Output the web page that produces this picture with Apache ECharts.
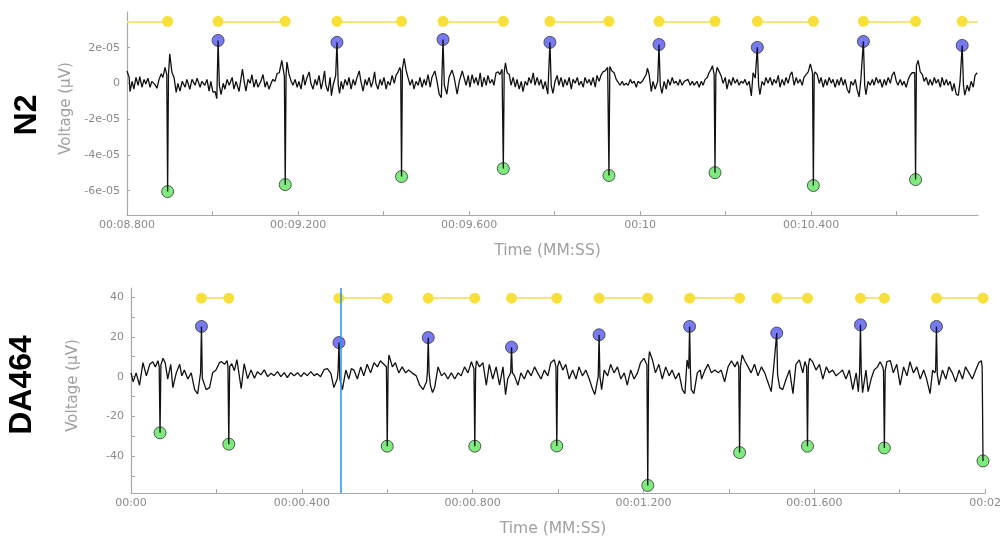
<!DOCTYPE html>
<html>
<head>
<meta charset="utf-8">
<script src="https://cdn.jsdelivr.net/npm/echarts@6/dist/echarts.min.js"></script>
<style>
html,body{margin:0;padding:0;background:#fff;}
#chart{width:1004px;height:540px;}
</style>
</head>
<body>
<div id="chart"></div>
<script>
// ---------------- DATA ----------------
// N2 panel: time in ms after 00:08.800, voltage in units of 1e-6
const n2StartMs = 8800;
const n2EndMs = 10790;
const n2Unit = 1e-6;
const n2Trace = [
[0,7.0],[5,3.4],[7,-4.5],[12,1.2],[16,-3.2],[21,3.4],[26,-1.0],[30,3.9],[35,-2.1],[40,2.3],[44,-0.3],[49,3.0],[54,-2.1],[58,1.2],[65,-0.5],[70,-2.7],[75,2.3],[80,5.5],[84,3.4],[89,9.0],[93,5.0],[95,-60.5],[97,5.0],[100,16.6],[105,6.3],[110,3.4],[115,-5.0],[119,0.1],[124,-4.3],[129,1.2],[136,-2.1],[140,2.3],[147,-3.2],[152,2.3],[159,-1.0],[164,3.0],[171,-2.1],[175,1.2],[182,-1.0],[187,2.3],[192,-4.3],[196,1.2],[201,-4.8],[206,-4.5],[210,-8.5],[213,24.1],[216,-1.0],[220,-6.2],[225,0.1],[229,-3.2],[234,2.3],[239,-1.0],[246,3.4],[250,-3.2],[255,1.2],[262,-4.5],[267,3.4],[270,8.0],[274,1.2],[278,-4.3],[283,2.3],[288,0.1],[292,5.0],[297,-2.1],[302,2.3],[306,-2.1],[313,1.2],[318,5.0],[323,-2.1],[327,1.2],[332,-3.2],[337,0.1],[341,2.3],[346,1.2],[351,5.5],[356,6.0],[362,12.9],[368,4.0],[370,-56.6],[372,5.0],[374,12.0],[379,5.0],[384,1.2],[388,-1.0],[393,2.3],[398,-2.1],[402,1.2],[407,-3.2],[412,5.0],[416,-1.0],[421,3.4],[426,6.5],[430,0.1],[435,-3.2],[440,2.3],[444,-1.0],[449,4.5],[454,-3.2],[458,1.2],[462,7.0],[465,-1.0],[470,-4.5],[475,3.4],[478,-6.8],[482,-1.0],[488,4.5],[491,23.0],[494,-1.0],[497,-5.5],[501,1.2],[505,-3.2],[510,2.3],[515,-1.0],[519,3.4],[524,-3.2],[529,2.3],[533,-1.0],[538,3.4],[543,7.0],[547,1.2],[552,-4.3],[557,2.3],[561,-1.0],[566,3.4],[571,-2.1],[575,1.2],[579,6.5],[582,0.1],[587,-3.2],[592,2.3],[596,-1.0],[601,3.4],[606,-3.2],[610,1.2],[615,-1.0],[620,4.5],[625,0.1],[629,4.5],[634,6.5],[638,9.0],[640,7.0],[642,-52.1],[644,8.0],[648,14.0],[653,7.0],[657,3.4],[662,-1.0],[667,2.3],[671,-3.2],[676,1.2],[681,-1.0],[685,3.4],[690,-2.1],[695,2.3],[699,-1.0],[704,5.0],[709,-2.1],[713,3.4],[720,7.0],[725,1.2],[730,-6.0],[735,-8.0],[739,24.6],[742,-1.0],[748,-6.0],[753,3.4],[760,7.5],[765,3.4],[772,-6.0],[777,1.2],[784,7.0],[788,3.4],[793,-1.0],[798,4.5],[802,-2.1],[807,5.0],[812,0.1],[816,3.4],[821,-1.0],[826,6.0],[830,-2.1],[835,3.4],[840,-1.0],[844,4.5],[849,0.1],[854,2.3],[858,-1.0],[863,6.0],[868,6.5],[872,5.0],[877,8.0],[880,-47.6],[882,6.0],[885,11.5],[889,6.0],[894,5.0],[898,-1.0],[903,3.4],[908,-2.1],[912,2.3],[917,-3.2],[922,1.2],[926,-4.5],[931,1.2],[936,-1.0],[940,3.4],[945,0.1],[950,6.0],[954,-1.0],[959,3.4],[964,-1.0],[968,2.3],[973,-3.2],[978,1.2],[984,-6.0],[989,23.0],[992,-1.0],[996,-5.5],[1001,1.2],[1006,4.5],[1010,-1.0],[1015,3.4],[1020,-2.1],[1024,2.3],[1029,-1.0],[1034,3.4],[1039,-3.2],[1043,2.3],[1048,0.1],[1053,3.4],[1057,-1.0],[1062,1.2],[1067,-2.1],[1071,3.4],[1076,0.1],[1081,2.3],[1085,-1.0],[1090,3.4],[1095,-2.1],[1099,4.5],[1104,1.2],[1109,5.0],[1113,6.5],[1118,7.0],[1124,9.0],[1127,-51.5],[1129,9.5],[1134,7.0],[1139,6.0],[1144,2.3],[1148,1.2],[1153,-1.0],[1158,1.2],[1162,-1.0],[1167,0.1],[1172,-1.0],[1177,2.3],[1181,0.1],[1186,1.2],[1191,-2.1],[1195,1.2],[1200,0.1],[1205,1.2],[1209,0.1],[1214,5.0],[1217,8.5],[1221,5.0],[1226,-4.5],[1230,1.2],[1235,-3.2],[1241,1.2],[1244,21.8],[1247,-1.0],[1251,-5.5],[1256,1.2],[1261,-3.2],[1265,2.3],[1270,-1.0],[1275,3.4],[1279,0.1],[1284,1.2],[1289,-1.0],[1293,2.3],[1298,-1.0],[1303,1.2],[1307,0.1],[1312,2.3],[1317,-1.0],[1322,1.2],[1326,-1.0],[1333,1.2],[1338,-2.1],[1343,1.2],[1347,-1.0],[1352,2.3],[1357,3.4],[1361,6.0],[1366,8.0],[1369,10.0],[1373,5.0],[1375,-49.9],[1377,5.0],[1380,9.0],[1385,6.5],[1389,4.5],[1394,0.1],[1399,3.4],[1403,-3.2],[1408,2.3],[1413,-1.0],[1417,3.4],[1422,0.1],[1427,2.3],[1431,-1.0],[1436,1.2],[1441,0.1],[1445,2.3],[1450,-1.0],[1455,1.2],[1460,-7.0],[1464,6.0],[1469,3.0],[1474,20.2],[1477,-1.0],[1480,-6.2],[1485,1.2],[1490,-1.0],[1494,3.4],[1499,0.1],[1504,3.4],[1509,-1.0],[1513,2.3],[1518,0.1],[1523,4.5],[1527,-2.1],[1532,2.3],[1537,-1.0],[1541,3.4],[1546,0.1],[1551,5.0],[1555,6.5],[1560,-1.0],[1565,3.4],[1569,0.1],[1574,2.3],[1579,-1.0],[1583,3.4],[1588,5.0],[1593,6.5],[1598,11.0],[1603,6.0],[1605,-57.1],[1607,5.0],[1609,6.5],[1614,5.0],[1619,0.1],[1623,3.4],[1628,-2.1],[1633,2.3],[1637,-1.0],[1642,3.4],[1647,0.1],[1651,2.3],[1656,-2.1],[1661,2.3],[1665,-1.0],[1670,3.4],[1675,-1.0],[1679,2.3],[1684,-3.2],[1689,-5.5],[1693,1.2],[1698,-1.0],[1703,2.3],[1707,-3.2],[1712,-7.5],[1716,2.0],[1722,23.5],[1725,-1.0],[1728,-6.2],[1733,1.2],[1738,-1.0],[1743,2.3],[1747,-1.0],[1752,3.4],[1757,0.1],[1761,2.3],[1766,-2.1],[1771,2.3],[1775,-1.0],[1780,3.4],[1785,0.1],[1789,4.5],[1794,6.5],[1799,1.2],[1803,-1.0],[1808,2.3],[1813,-1.0],[1817,1.2],[1822,-2.1],[1827,2.3],[1831,4.5],[1836,6.0],[1842,6.0],[1844,-53.8],[1846,10.0],[1850,12.9],[1855,6.5],[1860,5.0],[1864,1.2],[1869,3.4],[1874,-1.0],[1878,2.3],[1883,-1.0],[1888,3.4],[1892,0.1],[1897,2.3],[1902,-2.1],[1906,3.4],[1911,-1.0],[1916,2.3],[1920,-1.0],[1925,1.2],[1930,-4.3],[1934,0.1],[1939,-6.0],[1944,-6.7],[1948,1.0],[1953,21.3],[1956,-1.0],[1959,-6.5],[1965,-1.0],[1969,-4.3],[1974,1.2],[1979,-2.1],[1983,4.5],[1988,6.0]
];
const n2Peaks = [[213,24.1],[491,23.0],[739,24.6],[989,23.0],[1244,21.8],[1474,20.2],[1722,23.5],[1953,21.3]];
const n2Troughs = [[95,-60.5],[370,-56.6],[642,-52.1],[880,-47.6],[1127,-51.5],[1375,-49.9],[1605,-57.1],[1844,-53.8]];
const n2BarLevel = 34.8;
const n2BarIntervals = [[0,95],[213,370],[491,642],[739,880],[989,1127],[1244,1375],[1474,1605],[1722,1844],[1953,1990]];
const n2BarDots = [95,213,370,491,642,739,880,989,1127,1244,1375,1474,1605,1722,1844,1953];
const n2TickValues = [8.8,9.0,9.2,9.4,9.6,9.8,10.0,10.2,10.4,10.6];
const n2LabelValues = [8.8,9.2,9.6,10.0,10.4];
const n2YMin = -7.36e-5, n2YMax = 4e-5;
const n2YLabelValues = [-6e-5,-4e-5,-2e-5,0,2e-5];

// DA464 panel: time in ms after 00:00, voltage in µV
const daStartMs = 0;
const daEndMs = 2000;
const daTrace = [
[0,1.9],[5,-2.6],[12,1.9],[20,-4.3],[28,7.0],[36,0.4],[44,6.2],[51,7.5],[57,4.9],[63,8.0],[66,5.0],[68,-28.2],[70,5.9],[75,9.2],[80,7.0],[86,-1.2],[93,6.2],[98,-5.5],[106,1.9],[114,6.2],[119,0.4],[125,3.3],[133,-1.2],[141,1.9],[149,-6.5],[156,-8.7],[163,2.0],[165,25.2],[167,-0.8],[176,-6.5],[184,-5.5],[191,1.9],[199,3.3],[207,7.0],[212,7.5],[219,6.2],[225,8.0],[227,5.0],[229,-33.9],[231,5.0],[236,6.5],[242,3.0],[248,8.6],[258,-6.0],[265,6.5],[273,-1.0],[281,3.4],[289,-0.8],[296,2.5],[304,0.9],[312,3.4],[320,0],[328,1.7],[335,0.5],[343,2.5],[351,0],[359,2.0],[366,-0.5],[374,2.0],[382,0.5],[390,2.0],[398,0],[405,2.0],[413,0.5],[421,2.5],[429,0.5],[436,1.5],[444,0],[452,3.5],[460,4.0],[468,1.7],[475,-5.5],[483,-1.0],[485,3.0],[487,17.1],[489,-1.0],[495,-6.5],[503,3.3],[510,-1.2],[516,4.0],[522,3.3],[530,-1.2],[538,4.9],[545,0.4],[553,6.2],[561,1.9],[569,7.0],[577,4.9],[584,8.0],[592,6.2],[598,5.0],[600,-34.9],[602,5.0],[604,10.9],[612,4.9],[619,7.0],[627,1.9],[635,4.9],[643,1.9],[650,3.3],[658,1.9],[668,0.4],[676,-4.3],[684,-6.5],[692,-2.6],[694,2.0],[696,19.6],[698,2.0],[701,-4.3],[706,-8.0],[711,-5.5],[719,4.9],[727,0.4],[734,1.9],[742,-1.2],[750,1.9],[758,-1.2],[766,1.9],[773,0.4],[781,4.9],[789,1.9],[797,7.5],[803,4.0],[805,-34.9],[807,4.0],[809,8.0],[816,4.9],[824,7.0],[832,-4.3],[839,6.2],[847,-1.2],[855,4.9],[863,-4.3],[871,4.9],[877,-9.0],[882,-1.2],[889,2.0],[891,14.8],[893,2.0],[898,0.4],[906,-4.3],[913,1.9],[921,-1.2],[929,3.3],[937,0.4],[945,4.9],[952,1.9],[960,-1.2],[968,3.3],[976,0.4],[983,7.0],[991,8.5],[995,5.0],[997,-34.8],[999,5.0],[1003,8.0],[1011,3.3],[1018,6.2],[1026,-1.2],[1034,3.3],[1042,-1.2],[1049,4.9],[1057,0.4],[1065,3.3],[1073,-1.2],[1081,-6.5],[1086,-9.0],[1094,0],[1096,21.0],[1098,0],[1102,-6.5],[1108,3.3],[1116,0.4],[1123,6.2],[1131,1.9],[1139,4.9],[1147,-1.2],[1155,1.9],[1162,-4.3],[1170,3.3],[1178,-1.2],[1186,1.9],[1193,7.0],[1201,9.2],[1208,6.0],[1210,-54.6],[1212,8.0],[1214,12.6],[1221,8.4],[1228,1.9],[1236,6.2],[1244,-1.2],[1252,4.9],[1260,0.4],[1267,3.3],[1275,-1.2],[1283,1.9],[1291,-6.5],[1297,-8.5],[1302,8.4],[1306,4.0],[1308,25.2],[1310,2.0],[1312,-6.5],[1318,-8.5],[1326,1.9],[1333,3.3],[1336,-1.2],[1344,3.3],[1351,6.2],[1359,1.9],[1367,3.3],[1375,1.9],[1382,3.3],[1390,-2.6],[1398,4.9],[1406,8.0],[1414,4.9],[1420,7.6],[1423,5.0],[1425,-38.1],[1427,5.0],[1431,10.9],[1437,8.0],[1445,4.9],[1452,1.9],[1460,6.2],[1468,0.4],[1476,4.9],[1484,1.9],[1491,-2.6],[1499,-7.5],[1505,5.0],[1509,5.9],[1512,21.9],[1514,1.0],[1519,-5.5],[1526,-6.5],[1534,-1.2],[1542,3.3],[1550,-8.5],[1557,6.2],[1565,8.4],[1573,1.9],[1578,7.6],[1582,5.0],[1584,-34.9],[1586,5.0],[1589,9.2],[1596,7.5],[1604,3.3],[1612,6.2],[1620,-1.2],[1628,4.9],[1635,1.9],[1643,3.3],[1651,0.4],[1659,1.9],[1666,3.3],[1674,-1.2],[1682,3.3],[1690,-6.5],[1698,1.9],[1703,-7.5],[1706,2.0],[1708,26.0],[1710,2.0],[1713,-8.0],[1721,3.3],[1726,-7.5],[1733,-1.2],[1740,3.3],[1748,4.9],[1754,7.5],[1760,5.0],[1762,3.0],[1764,-35.8],[1766,3.0],[1770,7.6],[1778,8.0],[1785,1.9],[1793,6.2],[1801,-4.3],[1809,4.9],[1817,0.4],[1824,7.5],[1832,1.9],[1840,4.9],[1848,-1.2],[1856,3.3],[1863,-1.2],[1871,-8.5],[1877,3.3],[1882,1.9],[1884,3.0],[1886,25.2],[1888,1.0],[1892,-4.3],[1900,3.3],[1908,-1.2],[1915,4.9],[1923,1.9],[1931,-2.6],[1939,3.3],[1947,-1.2],[1954,4.9],[1962,1.9],[1970,-1.2],[1978,3.3],[1985,7.0],[1991,8.0],[1993,5.0],[1995,-42.3]
];
const daPeaks = [[165,25.2],[487,17.1],[696,19.6],[891,14.8],[1096,21.0],[1308,25.2],[1512,21.9],[1708,26.0],[1886,25.2]];
const daTroughs = [[68,-28.2],[229,-33.9],[600,-34.9],[805,-34.9],[997,-34.8],[1210,-54.6],[1425,-38.1],[1584,-34.9],[1764,-35.8],[1995,-42.3]];
const daBarLevel = 39.4;
const daBarIntervals = [[165,229],[487,600],[696,805],[891,997],[1096,1210],[1308,1425],[1512,1584],[1708,1764],[1886,1995]];
const daBarDots = [165,229,487,600,696,805,891,997,1096,1210,1308,1425,1512,1584,1708,1764,1886,1995];
const daCursorMs = 490;
const daTickValues = [0,0.2,0.4,0.6,0.8,1.0,1.2,1.4,1.6,1.8,2.0];
const daLabelValues = [0,0.4,0.8,1.2,1.6,2.0];
const daYMin = -58.4, daYMax = 44.5;
const daYLabelValues = [-40,-20,0,20,40];
const daYTickValues = [-50,-40,-30,-20,-10,0,10,20,30,40];

const panelNames = ['N2','DA464'];

// ---------------- HELPERS ----------------
function pad(n, w){ return String(n).padStart(w,'0'); }
function fmtTime(v){
  const total = Math.round(v*1000);
  const mm = Math.floor(total/60000);
  const ss = Math.floor((total%60000)/1000);
  const ms = total%1000;
  let s = pad(mm,2)+':'+pad(ss,2);
  if (ms) s += '.'+pad(ms,3);
  return s;
}
function fmtExp(v){
  if (Math.abs(v) < 1e-12) return '0';
  return v.toExponential(0).replace(/e([+-])(\d)$/, 'e$10$2');
}
const toSec = (start, ms) => (start+ms)/1000;

const labelStyle = {color:'#8a8a8a', fontSize:11, fontFamily:'DejaVu Sans'};
const nameStyle = {color:'#a0a0a0', fontSize:15, fontFamily:'DejaVu Sans'};
const axisLineStyle = {onZero:false, lineStyle:{color:'#a8a8a8', width:1.2}};

function panelSeries(idx, start, unit, trace, peaks, troughs, level, intervals, dots, cursor){
  const conv = p => [toSec(start,p[0]), p[1]*unit];
  const series = [];
  series.push({
    type:'scatter', xAxisIndex:idx, yAxisIndex:idx, z:2, silent:true,
    symbolSize:11,
    itemStyle:{color:'#f8e03c', opacity:1},
    data: dots.map(t => [toSec(start,t), level*unit]),
    markLine:{
      silent:true, symbol:'none', z:1,
      label:{show:false},
      lineStyle:{color:'#f6e47c', width:2, type:'solid'},
      emphasis:{disabled:true},
      data: intervals.map(iv => [{coord:[toSec(start,iv[0]), level*unit]},{coord:[toSec(start,iv[1]), level*unit]}])
    }
  });
  series.push({
    type:'scatter', xAxisIndex:idx, yAxisIndex:idx, z:2, silent:true,
    symbolSize:12,
    itemStyle:{color:'#5559ef', borderColor:'#333', borderWidth:1},
    data: peaks.map(conv)
  });
  series.push({
    type:'scatter', xAxisIndex:idx, yAxisIndex:idx, z:2, silent:true,
    symbolSize:12,
    itemStyle:{color:'#5fe65f', borderColor:'#333', borderWidth:1},
    data: troughs.map(conv)
  });
  const traceSeries = {
    type:'line', xAxisIndex:idx, yAxisIndex:idx, z:3, silent:true,
    symbol:'none', showSymbol:false,
    lineStyle:{color:'#111', width:1.3},
    data: trace.map(conv)
  };
  if (cursor != null) {
    traceSeries.markLine = {
      silent:true, symbol:'none', z:5,
      label:{show:false},
      lineStyle:{color:'#2196f3', width:1.5, type:'solid'},
      emphasis:{disabled:true},
      data:[{xAxis: toSec(start,cursor)}]
    };
  }
  series.push(traceSeries);
  return series;
}

const chart = echarts.init(document.getElementById('chart'), null, {renderer:'canvas'});
const option = {
  animation:false,
  backgroundColor:'#ffffff',
  grid:[
    {left:127, top:12, width:851, height:203},
    {left:131, top:288, width:857, height:205}
  ],
  xAxis:[
    {
      type:'value', gridIndex:0, min:n2StartMs/1000, max:n2EndMs/1000,
      axisLine:axisLineStyle,
      axisTick:{show:true, inside:true, length:4, customValues:n2TickValues, lineStyle:{color:'#a8a8a8'}},
      axisLabel:Object.assign({customValues:n2LabelValues, formatter:fmtTime, margin:5}, labelStyle),
      splitLine:{show:false},
      name:'Time (MM:SS)', nameLocation:'middle', nameGap:28,
      nameTextStyle:Object.assign({}, nameStyle, {fontSize:15.5, padding:[0,10,0,0]})
    },
    {
      type:'value', gridIndex:1, min:daStartMs/1000, max:daEndMs/1000,
      axisLine:axisLineStyle,
      axisTick:{show:true, inside:true, length:4, customValues:daTickValues, lineStyle:{color:'#a8a8a8'}},
      axisLabel:Object.assign({customValues:daLabelValues, formatter:fmtTime, margin:5}, labelStyle),
      splitLine:{show:false},
      name:'Time (MM:SS)', nameLocation:'middle', nameGap:28,
      nameTextStyle:Object.assign({}, nameStyle, {fontSize:15.5, padding:[0,10,0,0]})
    }
  ],
  yAxis:[
    {
      type:'value', gridIndex:0, min:n2YMin, max:n2YMax,
      axisLine:Object.assign({show:true}, axisLineStyle),
      axisTick:{show:true, inside:true, length:3, customValues:n2YLabelValues, lineStyle:{color:'#a8a8a8'}},
      axisLabel:Object.assign({customValues:n2YLabelValues, formatter:fmtExp, margin:7}, labelStyle),
      splitLine:{show:false},
      name:'Voltage (µV)', nameLocation:'middle', nameGap:51,
      nameTextStyle:Object.assign({}, nameStyle, {padding:[0,0,0,10]})
    },
    {
      type:'value', gridIndex:1, min:daYMin, max:daYMax,
      axisLine:Object.assign({show:true}, axisLineStyle),
      axisTick:{show:true, inside:true, length:4, customValues:daYTickValues, lineStyle:{color:'#a8a8a8'}},
      axisLabel:Object.assign({customValues:daYLabelValues, margin:7}, labelStyle),
      splitLine:{show:false},
      name:'Voltage (µV)', nameLocation:'middle', nameGap:50,
      nameTextStyle:Object.assign({}, nameStyle, {padding:[0,0,0,10]})
    }
  ],
  graphic:[
    {type:'text', x:27, y:115, rotation:Math.PI/2, silent:true,
     style:{text:panelNames[0], fill:'#000', font:'bold 32px "Liberation Sans", Arial, sans-serif', align:'center', verticalAlign:'middle', textAlign:'center', textVerticalAlign:'middle'}},
    {type:'text', x:22, y:385, rotation:Math.PI/2, silent:true,
     style:{text:panelNames[1], fill:'#000', font:'bold 32px "Liberation Sans", Arial, sans-serif', align:'center', verticalAlign:'middle', textAlign:'center', textVerticalAlign:'middle'}}
  ],
  series:[].concat(
    panelSeries(0, n2StartMs, n2Unit, n2Trace, n2Peaks, n2Troughs, n2BarLevel, n2BarIntervals, n2BarDots, null),
    panelSeries(1, daStartMs, 1, daTrace, daPeaks, daTroughs, daBarLevel, daBarIntervals, daBarDots, daCursorMs)
  )
};
chart.setOption(option);
</script>
</body>
</html>
